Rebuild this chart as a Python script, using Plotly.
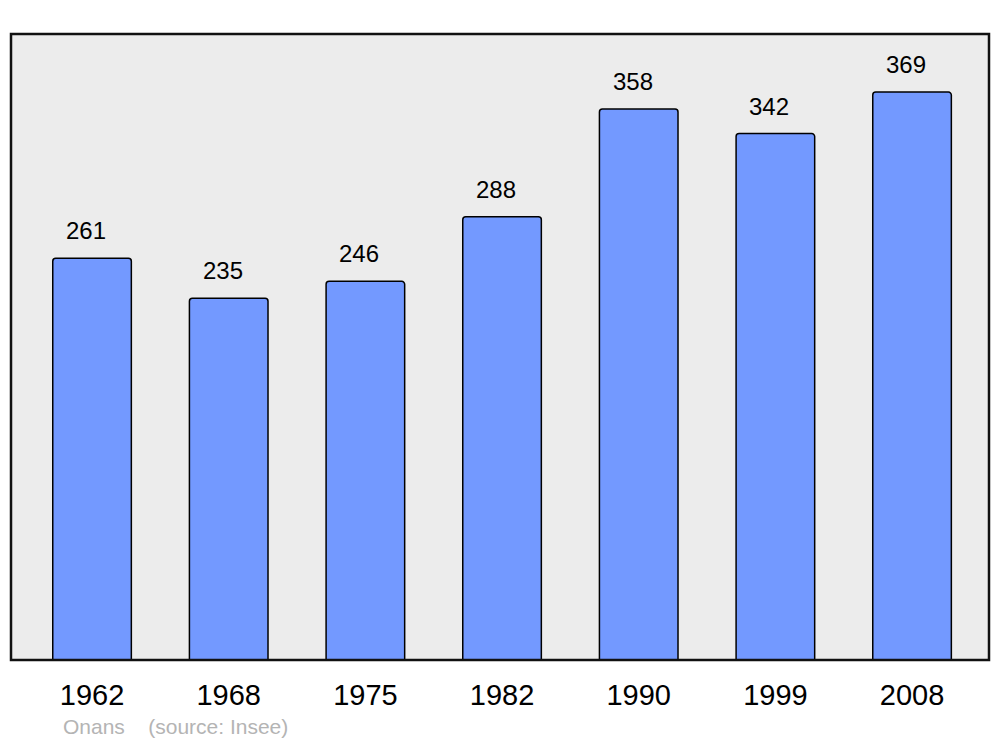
import plotly.graph_objects as go

YEARS = ["1962", "1968", "1975", "1982", "1990", "1999", "2008"]
POP = [261, 235, 246, 288, 358, 342, 369]

BG = "#ECECEC"
BAR = "#7399FF"
FONT = "Liberation Sans, Arial, sans-serif"

xs = list(range(len(YEARS)))

fig = go.Figure(go.Bar(
    x=xs, y=POP, width=0.575,
    marker=dict(color=BAR, line=dict(color="#000000", width=1.5), cornerradius=3),
    hoverinfo="skip", showlegend=False,
))

# value labels above bars
for x, v in zip(xs, POP):
    fig.add_annotation(x=x, y=v, text=str(v), showarrow=False,
                       yanchor="bottom", yshift=12, xshift=-6,
                       font=dict(size=24, color="#000000", family=FONT))

# frame
fig.add_shape(type="rect", xref="paper", yref="paper", x0=0, x1=1, y0=0, y1=1,
              line=dict(color="#111111", width=2.5), layer="above")

# footer
fig.add_annotation(xref="paper", yref="paper", x=50 / 978, y=-0.106,
                   xanchor="left", yanchor="middle", showarrow=False,
                   text="Onans&nbsp;&nbsp;&nbsp;&nbsp;(source: Insee)",
                   font=dict(size=21, color="#B4B4B4", family=FONT))

# page body has an 8px margin, so the figure is 16px smaller than the window
fig.update_layout(
    width=984, height=731,
    margin=dict(l=3, r=3, t=26, b=79),
    paper_bgcolor="#FFFFFF", plot_bgcolor=BG,
    font=dict(family=FONT, color="#000000"),
    xaxis=dict(range=[-0.593, 6.563], tickvals=xs, ticktext=YEARS,
               showgrid=False, zeroline=False, ticks="", ticklabelstandoff=15,
               tickfont=dict(size=29, family=FONT, color="#000000")),
    yaxis=dict(range=[0, 406.7], showgrid=False, zeroline=False,
               showticklabels=False, ticks=""),
)

fig.write_html("out.html")
